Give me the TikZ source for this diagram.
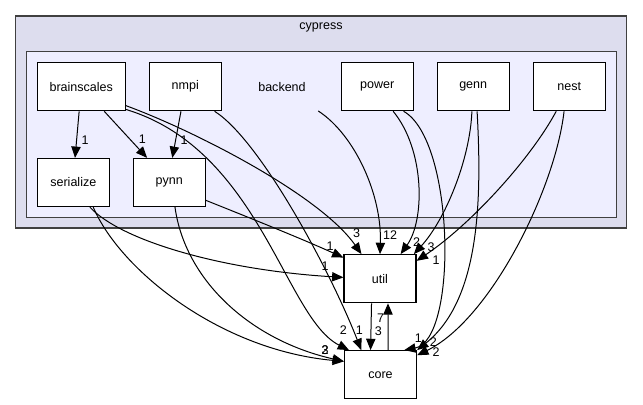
\documentclass[tikz,border=0pt]{standalone}
\usepackage{fontspec}
\setmainfont{Liberation Sans}
\usetikzlibrary{arrows.meta}
\definecolor{outerfill}{HTML}{DDDDEE}
\definecolor{innerfill}{HTML}{EEEEFF}

\begin{document}
\begin{tikzpicture}[x=0.75pt,y=-0.75pt,
    dirbox/.style={draw=black,line width=0.9pt,fill=white,inner sep=0pt,
      minimum width=54pt,minimum height=36pt,font=\fontsize{9.4}{11}\selectfont},
    cluster/.style={draw=black!75,line width=1.1pt},
    dep/.style={-{Triangle[length=8.5pt,width=7pt]},line width=0.75pt},
    num/.style={inner sep=0pt,font=\fontsize{9.4}{11}\selectfont}]
  \useasboundingbox (0,0) rectangle (643,404);
  \draw[cluster,fill=outerfill] (15.6,16) rectangle (626.5,228);
  \draw[cluster,fill=innerfill] (26.7,51.7) rectangle (616.5,217.3);
  \node[num] (cypress) at (321,27.3) {cypress};
  \node[num,minimum width=54pt,minimum height=36pt] (backend) at (282,86.7) {backend};

  \node[dirbox,minimum width=66pt] (brainscales) at (81.3,86.7) {brainscales};
  \node[dirbox] (nmpi)      at (185.3,86.7) {nmpi};
  \node[dirbox] (power)     at (377.2,86.7) {power};
  \node[dirbox] (genn)      at (473.2,86.7) {genn};
  \node[dirbox] (nest)      at (569.3,86.7) {nest};
  \node[dirbox] (serialize) at (73.3,182.5) {serialize};
  \node[dirbox] (pynn)      at (169.3,182.5) {pynn};
  \node[dirbox] (util)      at (380,278.7)  {util};
  \node[dirbox] (core)      at (380.5,374.7) {core};

  \draw[dep] (brainscales.-95) -- (serialize.86);
  \draw[dep] (brainscales.-47) -- (pynn.132);
  \draw[dep] (nmpi.-100) -- (pynn.83);
  \draw[dep] (brainscales.-23) .. controls (195,131) and (320,195) .. (util.127);
  \draw[dep] (brainscales.-27) .. controls (260,150) and (285,318) .. (core.142);
  \draw[dep] (nmpi.-40) .. controls (260,140) and (330,270) .. (core.128);
  \draw[dep] (backend.south east) .. controls (355,135) and (382,195) .. (util.north);
  \draw[dep] (power.-57) .. controls (425,150) and (425,220) .. (util.50);
  \draw[dep] (power.-43) .. controls (455,140) and (458,340) .. (core.46);
  \draw[dep] (genn.-93) .. controls (470,160) and (445,220) .. (util.36);
  \draw[dep] (genn.-81) .. controls (482,200) and (480,300) .. (core.north east);
  \draw[dep] (nest.-118) .. controls (530,160) and (470,225) .. (util.26);
  \draw[dep] (nest.-102) .. controls (555,190) and (490,320) .. (core.28);
  \draw[dep] (pynn.-26) .. controls (250,218) and (300,238) .. (util.150);
  \draw[dep] (serialize.-56) .. controls (120,240) and (220,270) .. (util.178);
  \draw[dep] (serialize.-51) .. controls (120,270) and (220,350) .. (core.160);
  \draw[dep] (pynn.-77) .. controls (185,280) and (250,340) .. (core.160);
  \draw[dep] (util.-109) -- (core.112);
  \draw[dep] (core.73) -- (util.-72);

  % edge counts
  \foreach \x/\y/\t [count=\i] in {85/140/1, 142.3/139/1, 184/140/1,
      356.7/233.3/3, 390/235/12, 416.7/241.7/2, 431/246.7/3, 436/260/1,
      330/245.7/1, 325/265.7/1, 343.3/330/2, 359.3/330/1, 378.3/331.5/3,
      380.5/318.5/7, 418.3/338.3/1, 433.3/341.7/2, 436/352.3/2,
      325/350/3, 325/350/2}
    \node[num] (lab\i) at (\x,\y) {\t};
\end{tikzpicture}
\end{document}
